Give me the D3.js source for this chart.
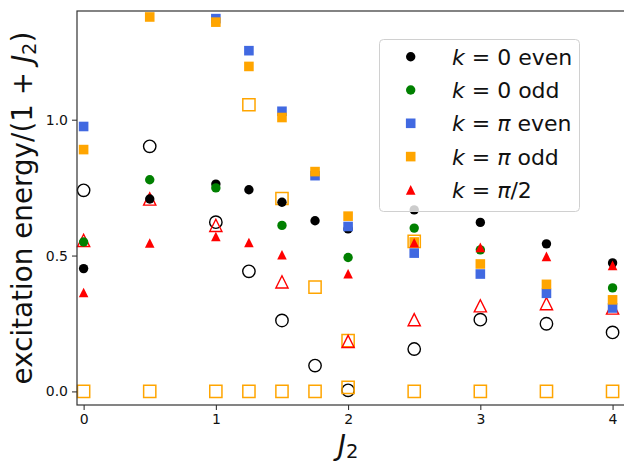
<!DOCTYPE html>
<html>
<head>
<meta charset="utf-8">
<script src="https://cdn.jsdelivr.net/npm/d3@7"></script>
<style>
  html, body { margin: 0; padding: 0; background: #fff; }
  svg { display: block; font-family: "DejaVu Sans", sans-serif; }
</style>
</head>
<body>
<svg id="chart" width="624" height="462"></svg>
<script>
// J2 coupling values along the x axis
const J2 = [0, 0.5, 1, 1.25, 1.5, 1.75, 2, 2.5, 3, 3.5, 4];

// Lowest excitation energies per symmetry sector (null = not shown)
const k0Even   = [0.452, 0.708, 0.763, 0.742, 0.696, 0.628, 0.598, 0.668, 0.622, 0.543, 0.473];
const k0Odd    = [0.550, 0.779, 0.749, null, 0.611, null, 0.493, 0.601, 0.521, null, 0.381];
const kPiEven  = [0.975, null, 1.372, 1.254, 1.031, 0.794, 0.607, 0.509, 0.432, 0.361, 0.307];
const kPiOdd   = [0.890, 1.378, 1.359, 1.196, 1.008, 0.809, 0.645, 0.550, 0.469, 0.394, 0.337];
const kHalfPi  = [0.364, 0.546, 0.570, 0.548, 0.503, null, 0.433, 0.547, 0.530, 0.497, 0.464];

// Second set of levels, drawn as open markers
const k0Open      = [0.740, 0.902, 0.623, 0.442, 0.261, 0.095, 0.004, 0.156, 0.264, 0.249, 0.217];
const kPiOpenLow  = [0, 0, 0, 0, 0, 0, 0.015, 0, 0, 0, 0];
const kPiOpenHigh = [null, null, null, 1.055, 0.710, 0.384, 0.187, 0.552, null, null, null];
const kHalfOpen   = [0.556, 0.708, 0.611, null, 0.403, null, 0.184, 0.264, 0.315, 0.323, 0.307];

const xTicks = [0, 1, 2, 3, 4];
const yTicks = [0, 0.5, 1.0];

const svg = d3.select("#chart");
const plotLeft = 77, plotTop = 11, plotBottom = 405, plotRight = 625.8;

const x = d3.scaleLinear().domain([-0.05, 4.1]).range([plotLeft, plotRight]);
const y = d3.scaleLinear().domain([-0.05, 1.4]).range([plotBottom, plotTop]);

// marker path builders (centred on 0,0)
const shapes = {
  circle: s => { const r = s / 2; return `M${r},0A${r},${r} 0 1,1 ${-r},0A${r},${r} 0 1,1 ${r},0Z`; },
  square: s => { const h = s / 2; return `M${-h},${-h}H${h}V${h}H${-h}Z`; },
  triangle: s => { const h = s / 2; return `M0,${-h}L${-h},${h}L${h},${h}Z`; }
};

const plot = svg.append("g");

function drawSeries(values, shape, size, fill, stroke, strokeWidth) {
  const pts = J2.map((j, i) => ({ j, v: values[i] })).filter(d => d.v !== null);
  plot.append("g").selectAll("path").data(pts).join("path")
    .attr("transform", d => `translate(${x(d.j)},${y(d.v)})`)
    .attr("d", shapes[shape](size))
    .attr("fill", fill)
    .attr("stroke", stroke)
    .attr("stroke-width", strokeWidth);
}

// open markers first, filled markers on top
drawSeries(k0Open, "circle", 12.4, "none", "black", 1.4);
drawSeries(kPiOpenLow, "square", 12.2, "none", "orange", 1.5);
drawSeries(kPiOpenHigh, "square", 12.2, "none", "orange", 1.5);
drawSeries(kHalfOpen, "triangle", 12.2, "none", "red", 1.4);

drawSeries(k0Even, "circle", 9.4, "black", "none", 0);
drawSeries(k0Odd, "circle", 9.4, "green", "none", 0);
drawSeries(kPiEven, "square", 9.6, "royalblue", "none", 0);
drawSeries(kPiOdd, "square", 9.6, "orange", "none", 0);
drawSeries(kHalfPi, "triangle", 9.6, "red", "none", 0);

// axes
const xAxis = svg.append("g").attr("transform", `translate(0,${plotBottom})`)
  .call(d3.axisBottom(x).tickValues(xTicks).tickFormat(d3.format("d")).tickSize(5).tickPadding(4));
const yAxis = svg.append("g").attr("transform", `translate(${plotLeft},0)`)
  .call(d3.axisLeft(y).tickValues(yTicks).tickFormat(d3.format(".1f")).tickSize(5).tickPadding(4));
[xAxis, yAxis].forEach(a => {
  a.select(".domain").remove();
  a.selectAll("line").attr("stroke", "#222").attr("stroke-width", 1);
  a.selectAll("text").attr("font-family", "DejaVu Sans").attr("font-size", 14).attr("fill", "#111");
});

// spines
svg.append("rect")
  .attr("x", plotLeft).attr("y", plotTop)
  .attr("width", plotRight - plotLeft).attr("height", plotBottom - plotTop)
  .attr("fill", "none").attr("stroke", "#333").attr("stroke-width", 1.2);

// axis labels
const ylab = svg.append("text")
  .attr("transform", `translate(32,208) rotate(-90)`)
  .attr("text-anchor", "middle")
  .attr("font-size", 27.8).attr("fill", "#111");
ylab.append("tspan").text("excitation energy/(1 + ");
ylab.append("tspan").attr("font-style", "italic").text("J");
ylab.append("tspan").attr("font-size", 19.5).attr("dy", 4).text("2");
ylab.append("tspan").attr("dy", -4).text(")");

const xlab = svg.append("text")
  .attr("x", 348).attr("y", 455)
  .attr("text-anchor", "middle")
  .attr("font-size", 27.8).attr("fill", "#111");
xlab.append("tspan").attr("font-style", "italic").text("J");
xlab.append("tspan").attr("font-size", 19.5).attr("dy", 3).text("2");

// legend
const legendItems = [
  { label: [["k", true], [" = 0 even", false]], shape: "circle", size: 9.4, color: "black" },
  { label: [["k", true], [" = 0 odd", false]], shape: "circle", size: 9.4, color: "green" },
  { label: [["k", true], [" = ", false], ["π", true], [" even", false]], shape: "square", size: 9.6, color: "royalblue" },
  { label: [["k", true], [" = ", false], ["π", true], [" odd", false]], shape: "square", size: 9.6, color: "orange" },
  { label: [["k", true], [" = ", false], ["π", true], ["/2", false]], shape: "triangle", size: 9.6, color: "red" }
];

const legend = svg.append("g");
legend.append("rect")
  .attr("x", 379.5).attr("y", 39.5).attr("width", 200).attr("height", 172)
  .attr("rx", 4).attr("ry", 4)
  .attr("fill", "white").attr("fill-opacity", 0.8)
  .attr("stroke", "#d0d0d0").attr("stroke-width", 1);

legendItems.forEach((it, i) => {
  const cy = 56.7 + i * 33.3;
  legend.append("path")
    .attr("transform", `translate(410.7,${cy})`)
    .attr("d", shapes[it.shape](it.size))
    .attr("fill", it.color);
  const t = legend.append("text")
    .attr("x", 452).attr("y", cy + 8)
    .attr("font-size", 22).attr("fill", "#111");
  it.label.forEach(([s, ital]) => {
    const ts = t.append("tspan").text(s);
    if (ital) ts.attr("font-style", "italic");
  });
});
</script>
</body>
</html>
